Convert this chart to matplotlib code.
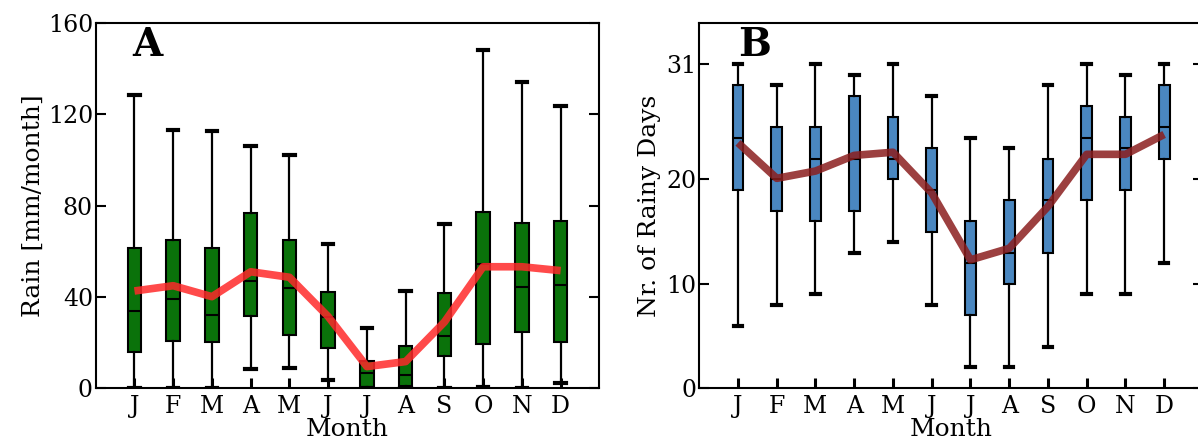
import numpy as np
import matplotlib
matplotlib.use("Agg")
import matplotlib.pyplot as plt

plt.rcParams['font.family'] = ['DejaVu Serif']

# ─────────────────────────────────────────────────────────────
# DATA
# ─────────────────────────────────────────────────────────────
MONTHS = ["J", "F", "M", "A", "M", "J", "J", "A", "S", "O", "N", "D"]

# Panel A: monthly rain [mm/month]
rain_whislo = [0, 0, 0, 8.3, 8.8, 3.6, 0, 0, 0, 0.7, 0, 2.2]
rain_q1     = [15.8, 20.9, 20.4, 31.8, 23.3, 17.5, 0.4, 1.0, 14.3, 19.4, 24.8, 20.1]
rain_med    = [34, 39, 32, 47, 43.8, 31, 6.5, 5.8, 22.9, 54.4, 44.5, 45.2]
rain_q3     = [61.3, 64.9, 61.3, 76.6, 64.9, 42.3, 12.1, 18.5, 41.6, 77.3, 72.5, 73.4]
rain_whishi = [128.4, 113, 112.7, 106.2, 102.1, 63.2, 26.3, 42.6, 71.8, 148, 134.2, 123.5]
rain_mean   = [42.6, 44.9, 40.1, 51, 48.6, 31.4, 9.5, 11.7, 29, 53.2, 53.2, 51.5]

# Panel B: number of rainy days
days_whislo = [6, 8, 9, 13, 14, 8, 2, 2, 4, 9, 9, 12]
days_q1     = [19, 17, 16, 17, 20, 15, 7, 10, 13, 18, 19, 22]
days_med    = [24, 20, 22, 22, 22, 19, 12, 13, 18, 24, 23, 25]
days_q3     = [29, 25, 25, 28, 26, 23, 16, 18, 22, 27, 26, 29]
days_whishi = [31, 29, 31, 30, 31, 28, 24, 23, 29, 31, 30, 31]
days_mean   = [23.5, 20.1, 20.8, 22.3, 22.6, 18.7, 12.3, 13.4, 17.4, 22.4, 22.4, 24.3]


def make_stats(lo, q1, med, q3, hi):
    return [dict(whislo=a, q1=b, med=c, q3=d, whishi=e, fliers=[])
            for a, b, c, d, e in zip(lo, q1, med, q3, hi)]


def draw_panel(ax, stats, means, box_color, line_color, width, capw):
    pos = np.arange(1, len(stats) + 1)
    ax.bxp(stats, positions=pos, widths=width, patch_artist=True,
           showfliers=False, capwidths=capw,
           boxprops=dict(facecolor=box_color, edgecolor="black", linewidth=1.5),
           medianprops=dict(color="black", linewidth=1.5),
           whiskerprops=dict(color="black", linewidth=1.6),
           capprops=dict(color="black", linewidth=3))
    ax.plot(pos, means, color=line_color, linewidth=5.5, alpha=0.85,
            solid_capstyle="butt", zorder=5)
    ax.set_xlim(0, 13)
    ax.set_xticks(pos)
    ax.set_xticklabels(MONTHS)
    ax.set_xlabel("Month", fontsize=18, labelpad=0)
    ax.tick_params(axis="both", labelsize=17, direction="in",
                   length=7, width=1.5)
    ax.tick_params(axis="y", right=True, pad=2)
    ax.tick_params(axis="x", width=2.2, pad=5)
    for sp in ax.spines.values():
        sp.set_linewidth(1.5)


fig = plt.figure(figsize=(11.98, 4.47), dpi=100)
axA = fig.add_axes([0.0799, 0.1313, 0.4204, 0.8179])
axB = fig.add_axes([0.5837, 0.1313, 0.4204, 0.8179])

draw_panel(axA, make_stats(rain_whislo, rain_q1, rain_med, rain_q3, rain_whishi),
           rain_mean, "#0a720a", "#ff2a2a", 0.35, 0.27)
axA.set_ylim(0, 160)
axA.set_yticks([0, 40, 80, 120, 160])
axA.set_ylabel("Rain [mm/month]", fontsize=18, labelpad=2)
axA.text(0.073, 0.94, "A", transform=axA.transAxes, fontsize=28,
         fontweight="bold", va="center", ha="left")

draw_panel(axB, make_stats(days_whislo, days_q1, days_med, days_q3, days_whishi),
           days_mean, "#4a87c0", "#8b1e1e", 0.28, 0.22)
axB.set_ylim(0, 35)
axB.set_yticks([0, 10, 20, 31])
axB.set_ylabel("Nr. of Rainy Days", fontsize=18, labelpad=4)
axB.text(0.078, 0.94, "B", transform=axB.transAxes, fontsize=28,
         fontweight="bold", va="center", ha="left")

fig.savefig("out.png", dpi=100)
